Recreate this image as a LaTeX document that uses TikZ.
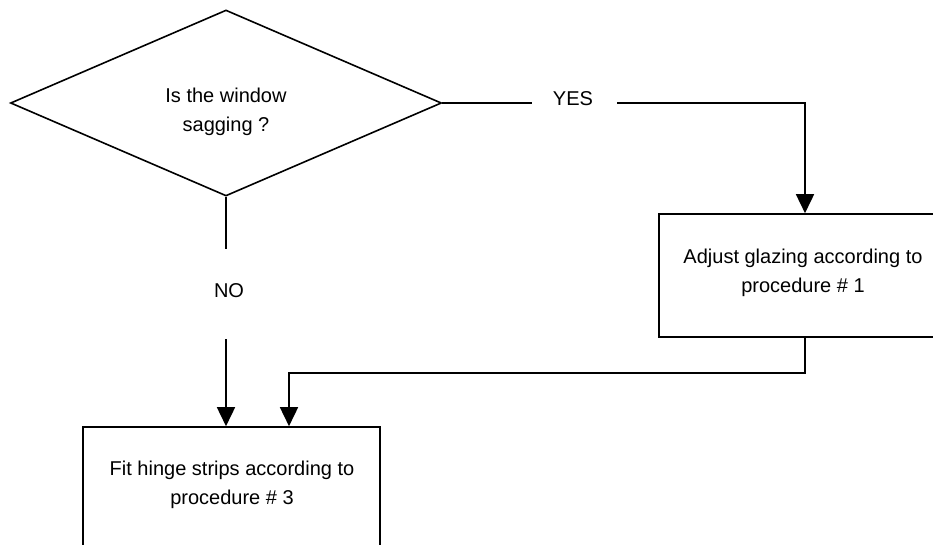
\documentclass[tikz,border=0pt]{standalone}
\usepackage{fontspec}
\setmainfont{Liberation Sans}
\usetikzlibrary{shapes.geometric,arrows.meta}
\begin{document}
\begin{tikzpicture}[x=1pt,y=-1pt,
  line width=1.6pt,
  every node/.style={font=\fontsize{20}{28.5}\selectfont},
  decision/.style={draw,shape=diamond,minimum width=431pt,minimum height=186pt,inner sep=0pt},
  stepbox/.style={draw,rectangle,inner sep=0pt},
  txt/.style={align=center,inner sep=0pt},
  arr/.style={-{Triangle[width=18pt,length=19pt]}}]
\clip (0,0) rectangle (933,544);
\fill[white] (0,0) rectangle (933,544);
% decision
\node[decision] (q) at (226,103) {};
\node[txt] (qt) at (226,112) {Is the window\\sagging ?};
% boxes
\node[stepbox,minimum width=292pt,minimum height=123pt] (b1) at (805,275.5) {};
\node[txt] (b1t) at (803,273) {Adjust glazing according to\\procedure \# 1};
\node[stepbox,minimum width=297pt,minimum height=160pt] (b3) at (231.5,507) {};
\node[txt] (b3t) at (232,485) {Fit hinge strips according to\\procedure \# 3};
% labels
\node[txt] (yes) at (573,98.5) {YES};
\node[txt] (no) at (229,290.5) {NO};
% coordinates
\coordinate (y1) at (532,103);
\coordinate (y2) at (617,103);
\coordinate (n1) at (226,249);
\coordinate (n2) at (226,339);
\coordinate (m) at (289,373);
% connectors
\draw (q.east) -- (y1);
\draw[arr] (y2) -| (b1.north);
\draw (q.south) -- (n1);
\draw[arr] (n2) -- (n2 |- b3.north);
\draw[arr] (b1.south) |- (m) -- (m |- b3.north);
\end{tikzpicture}
\end{document}
